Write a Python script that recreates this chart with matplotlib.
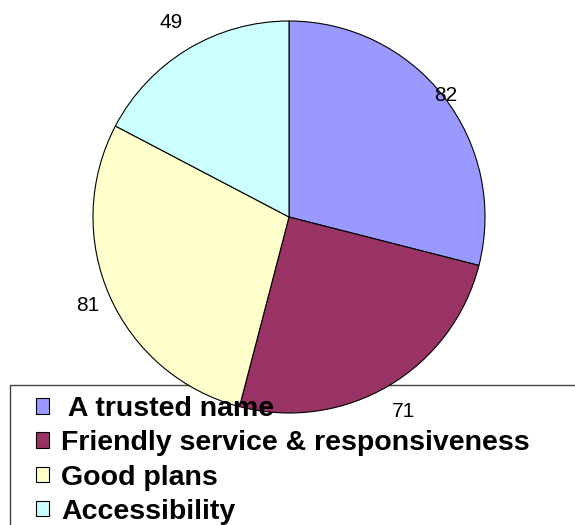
import numpy as np
import matplotlib
matplotlib.use("Agg")
import matplotlib.pyplot as plt
from matplotlib.patches import Patch, Rectangle

plt.rcParams["font.family"] = ["Liberation Sans", "DejaVu Sans"]

labels = [" A trusted name", "Friendly service & responsiveness",
          "Good plans", "Accessibility"]
values = [82, 71, 81, 49]
colors = ["#9999FF", "#993366", "#FFFFCC", "#CCFFFF"]

W, H = 575, 525
fig = plt.figure(figsize=(W / 100, H / 100), dpi=100)

# pie area: centre (289, 217) px from top-left, radius 196 px
cx, cy, r = 289, 217, 196
ax = fig.add_axes([(cx - r) / W, (H - cy - r) / H, 2 * r / W, 2 * r / H])
wedges, _ = ax.pie(values, colors=colors, startangle=90, counterclock=False,
                   radius=1.0,
                   wedgeprops=dict(edgecolor="black", linewidth=0.8))
ax.set_xlim(-1, 1)
ax.set_ylim(-1, 1)
ax.axis("off")

# value labels placed just outside each wedge
label_r = [1.01, 1.15, 1.12, 1.16]
for w, v, lr in zip(wedges, values, label_r):
    mid = np.deg2rad((w.theta1 + w.theta2) / 2)
    ax.text(lr * np.cos(mid), lr * np.sin(mid), str(v), ha="center",
            va="center", fontsize=15, clip_on=False, zorder=5)

# legend frame sits behind the pie, text on top
frame = Rectangle((10 / W, -0.1), 1.0, (H - 385) / H + 0.1,
                  transform=fig.transFigure, facecolor="none",
                  edgecolor="#444444", linewidth=1.0, zorder=-1)
fig.patches.append(frame)

handles = [Patch(facecolor=c, edgecolor="black", linewidth=0.8) for c in colors]
leg = fig.legend(handles, labels, loc="upper left",
                 bbox_to_anchor=(36 / W, 1 - 396 / H), frameon=False,
                 prop=dict(size=20.5, weight="bold"), borderpad=0,
                 handlelength=0.46, handleheight=0.46, handletextpad=0.42,
                 labelspacing=0.29, borderaxespad=0)

fig.savefig("out.png", dpi=100)
